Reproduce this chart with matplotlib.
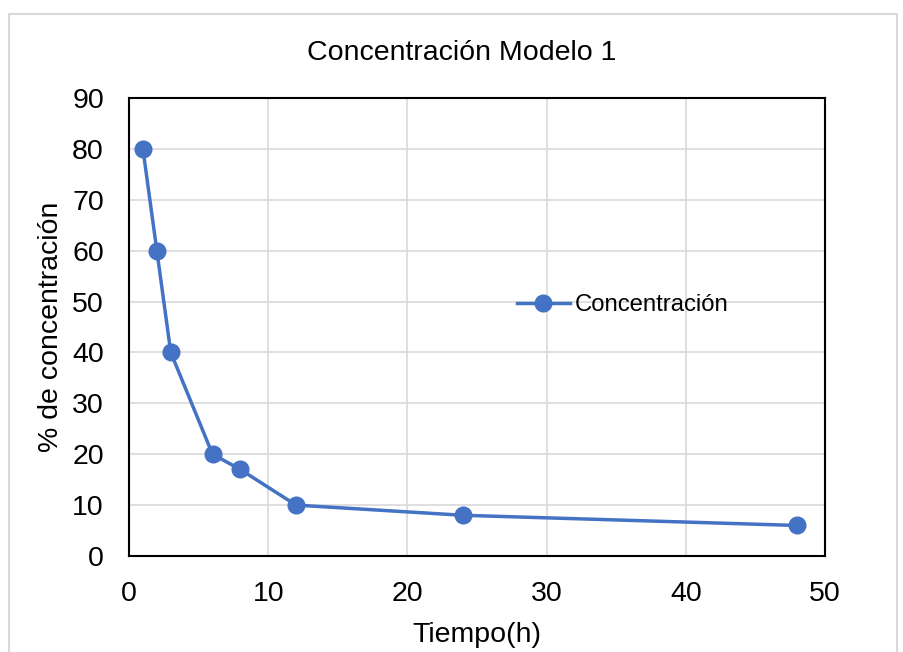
import matplotlib
matplotlib.use("Agg")
import matplotlib.pyplot as plt
from matplotlib.patches import Rectangle

# data
tiempo = [1, 2, 3, 6, 8, 12, 24, 48]
concentracion = [80, 60, 40, 20, 17, 10, 8, 6]
xticks = [0, 10, 20, 30, 40, 50]
yticks = [0, 10, 20, 30, 40, 50, 60, 70, 80, 90]

plt.rcParams['font.family'] = ['Liberation Sans', 'DejaVu Sans']
blue = '#4472C4'

W, H = 904, 652
fig = plt.figure(figsize=(W / 100, H / 100), dpi=100)

# light grey chart-area border, as in Excel
fig.patches.append(Rectangle((9 / W, -0.01), (897 - 9) / W, 1 - 14 / H + 0.01,
                             transform=fig.transFigure, fill=False,
                             edgecolor='#d9d9d9', linewidth=1.5))

ax = fig.add_axes([129 / W, 1 - 556 / H, (825 - 129) / W, (556 - 98) / H])
ax.plot(tiempo, concentracion, color=blue, linewidth=2.5, marker='o',
        markersize=12, label='Concentración')

ax.set_xlim(0, 50)
ax.set_ylim(0, 90)
ax.set_xticks(xticks)
ax.set_yticks(yticks)
ax.grid(True, color='#d9d9d9', linewidth=1.2)
ax.set_axisbelow(True)
for s in ax.spines.values():
    s.set_color('black')
    s.set_linewidth(1.5)
ax.tick_params(labelsize=20.5, length=0)
ax.tick_params(axis='x', pad=18)
ax.tick_params(axis='y', pad=18)

ax.set_xlabel('Tiempo(h)', fontsize=20.5, labelpad=11)
ax.set_ylabel('% de concentración', fontsize=20.5, labelpad=6)
fig.text(462 / W, 1 - 53 / H, 'Concentración Modelo 1', fontsize=20.5,
         ha='center', va='center')

ax.legend(loc='center left', bbox_to_anchor=((517 - 129) / (825 - 129), (556 - 305) / (556 - 98)),
          frameon=False, fontsize=17.2, handlelength=2.2, handletextpad=0.2,
          borderaxespad=0, borderpad=0)

fig.savefig('out.png', dpi=100)
